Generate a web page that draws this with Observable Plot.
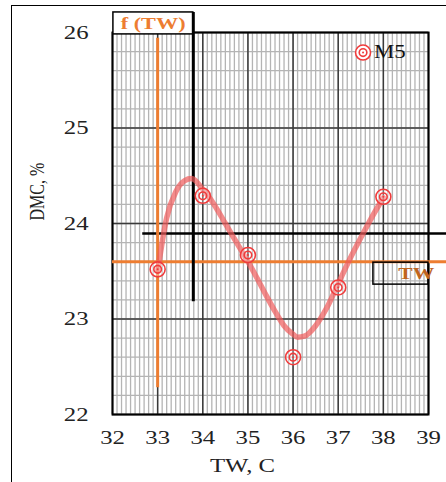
<!DOCTYPE html>
<html>
<head>
<meta charset="utf-8">
<script src="https://cdn.jsdelivr.net/npm/d3@7"></script>
<script src="https://cdn.jsdelivr.net/npm/@observablehq/plot@0.6"></script>
<style>
  html, body { margin: 0; padding: 0; background: #fff; }
  #wrap { position: relative; width: 446px; height: 482px; overflow: hidden; }
  #outer { position: absolute; left: 11px; top: 5px; width: 460px; height: 500px;
           border-left: 1.5px solid #000; border-top: 1.5px solid #000; box-sizing: border-box; }
  #chart { position: absolute; left: 0; top: 0; }
  #chart svg, #chart svg text { font-family: "Liberation Serif", "Times New Roman", serif !important; font-variant: normal !important; }
</style>
</head>
<body>
<div id="wrap"><div id="outer"></div><div id="chart"></div></div>
<script>
// Measured points (series M5)
const tw = [33, 34, 35, 36, 37, 38];
const dmc = [23.52, 24.29, 23.67, 22.6, 23.33, 24.28];

// Fitted curve
const curveTW  = [33.0, 33.2, 33.4, 33.6, 33.75, 34.0, 34.25, 34.5, 34.75, 35.0, 35.2, 35.4, 35.6, 35.8, 36.0, 36.1, 36.25, 36.5, 36.75, 37.0, 37.25, 37.5, 37.75, 38.0];
const curveDMC = [23.5, 24.06, 24.33, 24.45, 24.47, 24.36, 24.2, 24.0, 23.8, 23.6, 23.43, 23.25, 23.08, 22.93, 22.84, 22.81, 22.82, 22.93, 23.12, 23.37, 23.62, 23.85, 24.07, 24.27];

// Axis ticks
const xTicks = [32, 33, 34, 35, 36, 37, 38, 39];
const yTicks = [22, 23, 24, 25, 26];
const xMinor = d3.range(321, 391).map(d => d / 10);
const yMinor = d3.range(110, 131).map(d => d / 5);

// Reference lines and annotation boxes
const fTW = 33;              // orange vertical
const fTWRange = [22.28, 25.94];
const blackX = 33.79;        // black vertical
const blackXRange = [23.18, 26.21];
const blackY = 23.895;       // black horizontal
const blackYRange = [32.67, 39.4];
const orangeY = 23.6;        // orange horizontal
const orangeYRange = [32, 39.4];
const fBox = {x1: 32.02, x2: 33.79, y1: 25.98, y2: 26.21, label: "f (TW)", lx: 32.9, ly: 26.095};
const twBox = {x1: 37.78, x2: 39.0, y1: 23.36, y2: 23.59, label: "TW", lx: 38.73, ly: 23.475};
const legend = {x: 37.55, y: 25.79, label: "M5"};

const serif = "Liberation Serif";
const red = "#f03c3c";
const orange = "#ed7d31";
const SX = 1.27; // the reference's lettering is horizontally stretched

const pts = tw.map((x, i) => ({x, y: dmc[i]}));

const chart = Plot.plot({
  width: 446,
  height: 482,
  marginLeft: 112,
  marginRight: 18,
  marginTop: 32,
  marginBottom: 68,
  style: {fontFamily: serif, fontSize: "19.5px", background: "transparent", overflow: "visible", color: "#222"},
  x: {domain: [32, 39], label: null},
  y: {domain: [22, 26], label: null},
  marks: [
    Plot.ruleX(xMinor, {stroke: "#b4b4b4", strokeWidth: 1.3}),
    Plot.ruleY(yMinor, {stroke: "#b4b4b4", strokeWidth: 1.3}),
    Plot.ruleX(xTicks, {stroke: "#3a3a3a", strokeWidth: 1.5}),
    Plot.ruleY(yTicks, {stroke: "#3a3a3a", strokeWidth: 1.5}),
    Plot.frame({stroke: "#000", strokeWidth: 2}),
    Plot.axisX({ticks: xTicks, tickFormat: "d", tickSize: 0, tickPadding: 16, label: null, fontFamily: serif, fontSize: 19.5, fill: "#222"}),
    Plot.axisY({ticks: yTicks, tickFormat: "d", tickSize: 0, tickPadding: 24, label: null, fontFamily: serif, fontSize: 19.5, fill: "#222"}),
    // reference lines
    Plot.ruleY([blackY], {x1: blackYRange[0], x2: blackYRange[1], stroke: "#000", strokeWidth: 2.5, clip: false}),
    Plot.ruleY([orangeY], {x1: orangeYRange[0], x2: orangeYRange[1], stroke: orange, strokeWidth: 3, clip: false}),
    Plot.ruleX([fTW], {y1: fTWRange[0], y2: fTWRange[1], stroke: orange, strokeWidth: 3}),
    // f (TW) box
    Plot.rect([fBox], {x1: "x1", x2: "x2", y1: "y1", y2: "y2", fill: "#fff", stroke: "#000", strokeWidth: 1.5, clip: false}),
    Plot.text([fBox], {x: "lx", y: "ly", text: "label", fill: orange, fontWeight: "bold", fontSize: 17.5, fontFamily: serif, clip: false}),
    Plot.ruleX([blackX], {y1: blackXRange[0], y2: blackXRange[1], stroke: "#000", strokeWidth: 3, clip: false}),
    // TW box
    Plot.rect([twBox], {x1: "x1", x2: "x2", y1: "y1", y2: "y2", fill: "none", stroke: "#000", strokeWidth: 1.5, clip: false}),
    Plot.text([twBox], {x: "lx", y: "ly", text: "label", fill: "#c0651e", fontWeight: "bold", fontSize: 17, fontFamily: serif, clip: false}),
    // fitted curve
    Plot.line(curveTW.map((x, i) => ({x, y: curveDMC[i]})), {x: "x", y: "y", curve: "monotone-x", stroke: "#f05a5a", strokeOpacity: 0.7, strokeWidth: 5.5}),
    // markers (double circles)
    Plot.dot(pts, {x: "x", y: "y", r: 7.5, stroke: red, strokeWidth: 1.6, fill: "#fff", fillOpacity: 0.3}),
    Plot.dot(pts, {x: "x", y: "y", r: 3.8, stroke: red, strokeWidth: 1.6, fill: "none"}),
    Plot.dot(pts, {x: "x", y: "y", r: 1, fill: red}),
    // legend
    Plot.dot([legend], {x: "x", y: "y", r: 7.5, stroke: red, strokeWidth: 1.6, fill: "#fff"}),
    Plot.dot([legend], {x: "x", y: "y", r: 3.8, stroke: red, strokeWidth: 1.6, fill: "none"}),
    Plot.dot([legend], {x: "x", y: "y", r: 1, fill: red}),
    Plot.text([legend], {x: "x", y: "y", text: "label", dx: 11, textAnchor: "start", fill: "#111", fontSize: 18, fontFamily: serif}),
    // axis titles
    Plot.text(["TW, C"], {frameAnchor: "bottom", dx: -28, dy: 57, fontSize: 19.5, fill: "#222", fontFamily: serif}),
    Plot.text(["DMC, %"], {frameAnchor: "left", dx: -75, dy: -3, rotate: -90, fontSize: 16, fill: "#222", fontFamily: serif})
  ]
});

// stretch lettering horizontally (screen x) about each text's anchor point
for (const t of chart.querySelectorAll("text")) {
  const tr = t.getAttribute("transform") || "";
  const m = tr.match(/^\s*(translate\([^)]*\))(.*)$/);
  if (m) {
    t.setAttribute("transform", `${m[1]} scale(${SX},1)${m[2]}`);
  } else {
    const x = +t.getAttribute("x") || 0;
    t.setAttribute("transform", `translate(${x},0) scale(${SX},1) translate(${-x},0) ${tr}`);
  }
}
document.getElementById("chart").appendChild(chart);
</script>
</body>
</html>
